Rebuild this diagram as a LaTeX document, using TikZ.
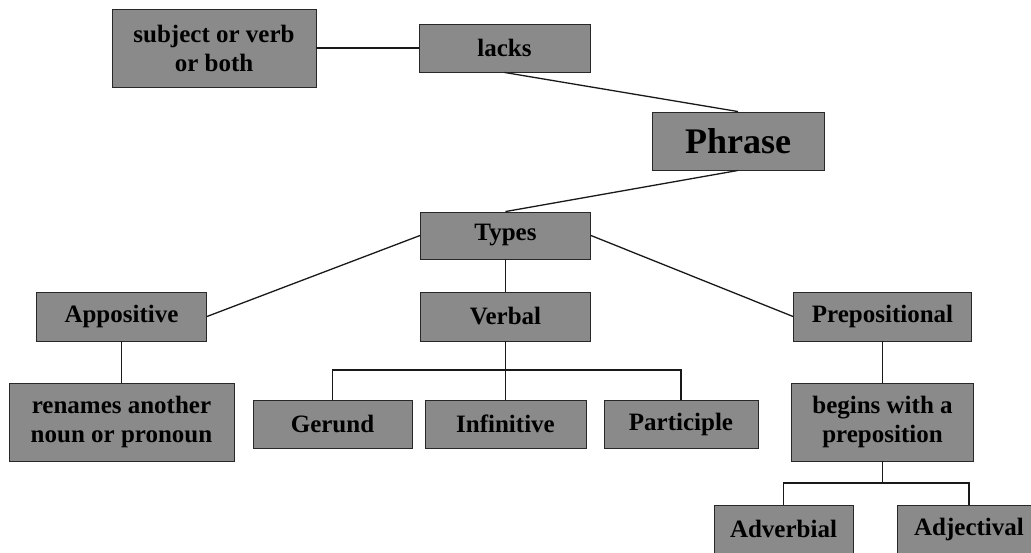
\documentclass[tikz,border=0pt]{standalone}
\usepackage{fontspec}
\setmainfont{Liberation Serif}
\usepackage{tikz}
\usetikzlibrary{positioning}

\definecolor{boxgray}{RGB}{138,138,138}
\definecolor{edgegray}{RGB}{40,40,40}

\tikzset{
	box/.style={draw=edgegray, line width=0.9pt, fill=boxgray, inner sep=0pt,
		minimum height=48pt, align=center,
		font=\fontsize{25}{29}\selectfont\bfseries},
	link/.style={line width=1.3pt, color=black!90}
}

\begin{document}
\begin{tikzpicture}[x=1pt,y=-1pt]

			\useasboundingbox (0,0) rectangle (1031,552);

			\node[box, minimum width=204pt, minimum height=78pt] (subj) at (214, 48) {subject or verb\\or both};
			\node[box, minimum width=171pt] (lacks) at (504.5, 48) {lacks};
			\node[box, minimum width=172pt, minimum height=58pt, font=\fontsize{36}{40}\selectfont\bfseries] (phrase) at (738, 141) {Phrase};
			\node[box, minimum width=170pt, minimum height=47pt] (types) at (505.5, 235.5) {Types};
			\node[box, minimum width=170pt, minimum height=49pt] (appos) at (121.5, 316.5) {Appositive};
			\node[box, minimum width=170pt, minimum height=49pt] (verbal) at (505.5, 316.5) {Verbal};
			\node[box, minimum width=178pt, minimum height=49pt] (prep) at (882.5, 316.5) {Prepositional};
			\node[box, minimum width=225pt, minimum height=78pt] (renames) at (121.5, 422) {renames another\\noun or pronoun};
			\node[box, minimum width=159pt] (gerund) at (332.5, 424) {Gerund};
			\node[box, minimum width=161pt] (infin) at (505.5, 424) {Infinitive};
			\node[box, minimum width=154pt] (partic) at (681, 424) {Participle};
			\node[box, minimum width=182pt, minimum height=78pt] (begins) at (882.5, 422) {begins with a\\preposition};
			\node[box, minimum width=139pt] (adverb) at (783.5, 529) {Adverbial};
			\node[box, minimum width=144pt] (adject) at (969, 529) {Adjectival};

			\coordinate (vbar) at (505.5, 370);
			\coordinate (pbar) at (882.5, 483);

			\draw[link] (subj.east) -- (lacks.west);
			\draw[link] (lacks.south) -- (phrase.north);
			\draw[link] (phrase.south) -- (types.north);
			\draw[link] (types.west) -- (appos.east);
			\draw[link] (types.south) -- (verbal.north);
			\draw[link] (types.east) -- (prep.west);
			\draw[link] (appos.south) -- (renames.north);
			\draw[link] (verbal.south) -- (infin.north);
			\draw[link] (gerund.north) |- (vbar) -| (partic.north);
			\draw[link] (prep.south) -- (begins.north);
			\draw[link] (begins.south) -- (pbar);
			\draw[link] (adverb.north) |- (pbar) -| (adject.north);

		\end{tikzpicture}
\end{document}
